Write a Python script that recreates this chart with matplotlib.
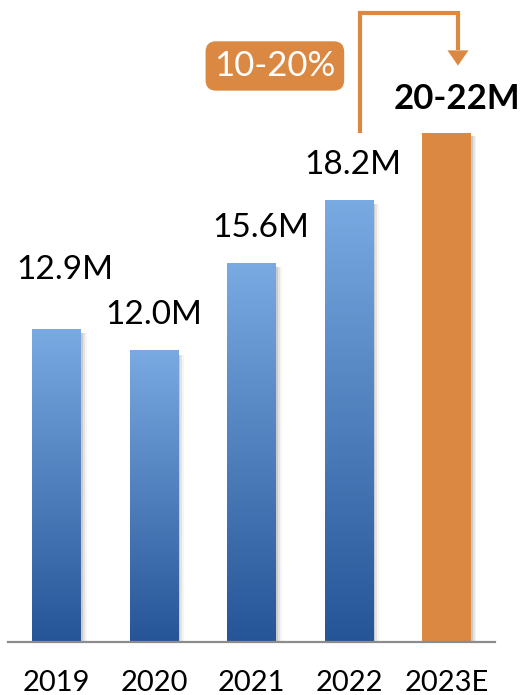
import matplotlib
matplotlib.use("Agg")
import matplotlib.pyplot as plt
import numpy as np
from matplotlib.colors import LinearSegmentedColormap
from matplotlib.patches import Rectangle, FancyArrowPatch

plt.rcParams['font.family'] = ['Lato', 'DejaVu Sans']

# data
years = ["2019", "2020", "2021", "2022", "2023E"]
values = [12.9, 12.0, 15.6, 18.2, 21.0]
labels = ["12.9M", "12.0M", "15.6M", "18.2M", "20-22M"]
growth_label = "10-20%"

BLUE_TOP = "#7AAAE2"
BLUE_BOT = "#255597"
ORANGE = "#DB8942"

fig = plt.figure(figsize=(5.28, 6.95), dpi=100)
ax = fig.add_axes([8 / 528, 53 / 695, 487 / 528, 642 / 695])
ax.set_xlim(-0.5, 4.5)
ax.set_ylim(0, 26.47)

cmap = LinearSegmentedColormap.from_list("blues", [BLUE_BOT, BLUE_TOP])
grad = np.linspace(0, 1, 256).reshape(-1, 1)
width = 0.5

for i, v in enumerate(values):
    # soft shadow on the right
    for k, a in enumerate([0.10, 0.07, 0.04]):
        off = 0.02 + 0.02 * k
        ax.add_patch(Rectangle((i - width / 2 + off, 0), width, v - 0.15,
                               color="black", alpha=a, lw=0, zorder=1))
    if i < len(values) - 1:
        ax.imshow(grad, cmap=cmap, origin="lower", aspect="auto",
                  extent=[i - width / 2, i + width / 2, 0, v], zorder=2)
    else:
        ax.add_patch(Rectangle((i - width / 2, 0), width, v,
                               color=ORANGE, lw=0, zorder=2))

# value labels (offset above bar top, in data units)
label_off = [2.45, 1.5, 1.45, 1.45, 1.4]
label_dx = [0.08, 0.0, 0.1, 0.04, 0.11]
for i, (v, lab) in enumerate(zip(values, labels)):
    bold = i == len(values) - 1
    ax.text(i + label_dx[i], v + label_off[i], lab,
            ha="center", va="center", fontsize=25 if bold else 24,
            fontweight="bold" if bold else "normal", color="black", zorder=5)

# growth bracket arrow from 2022 to 2023E
x0 = 3 + 0.11
x1 = 4 + 0.12
ytop = 25.95
ax.plot([x0, x0, x1, x1], [values[3] + 2.8, ytop, ytop, 24.4],
        color=ORANGE, lw=3, solid_joinstyle="miter", solid_capstyle="butt",
        zorder=4)
ax.add_patch(FancyArrowPatch((x1, 24.5), (x1, 23.65),
                             arrowstyle="-|>,head_length=0.55,head_width=0.38",
                             mutation_scale=20, color=ORANGE, lw=0, zorder=4))

ax.text(2.24, 23.75, growth_label, ha="center", va="center",
        fontsize=25, color="white", zorder=5,
        bbox=dict(boxstyle="round,pad=0.25,rounding_size=0.3",
                  fc=ORANGE, ec="none"))

# axis styling
for s in ["top", "right", "left"]:
    ax.spines[s].set_visible(False)
ax.spines["bottom"].set_color("#8C8C8C")
ax.spines["bottom"].set_linewidth(1.6)
ax.set_yticks([])
ax.set_xticks(range(len(years)))
ax.set_xticklabels(years, fontsize=21)
ax.tick_params(axis="x", length=0, pad=20)

fig.savefig("out.png", dpi=100)
